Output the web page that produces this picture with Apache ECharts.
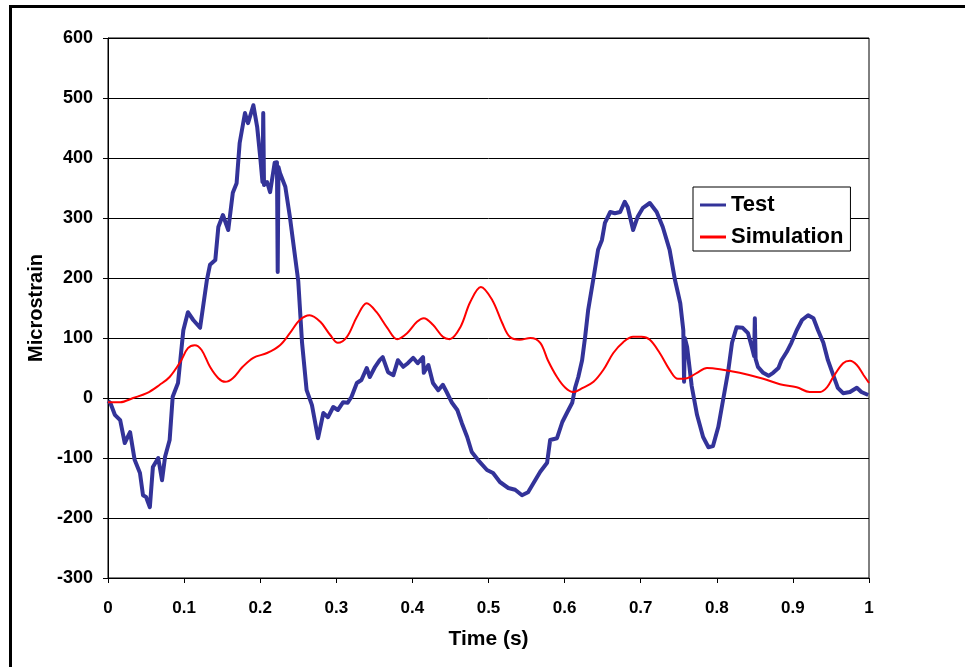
<!DOCTYPE html>
<html>
<head>
<meta charset="utf-8">
<script src="https://cdn.jsdelivr.net/npm/echarts@6/dist/echarts.min.js"></script>
<style>
html,body{margin:0;padding:0;background:#fff;}
#chart{width:965px;height:667px;}
</style>
</head>
<body>
<div id="chart"></div>
<script>
// Test series (time in s, microstrain)
const testT = [0.000,0.003,0.009,0.016,0.022,0.029,0.035,0.042,0.046,0.050,0.055,0.059,0.066,0.071,0.075,0.081,0.085,0.092,0.099,0.105,0.112,0.121,0.130,0.134,0.141,0.145,0.151,0.158,0.164,0.169,0.173,0.180,0.184,0.191,0.196,0.200,0.203,0.204,0.205,0.209,0.213,0.219,0.222,0.223,0.224,0.226,0.233,0.239,0.243,0.250,0.255,0.261,0.268,0.276,0.283,0.289,0.296,0.302,0.309,0.315,0.320,0.327,0.333,0.340,0.344,0.351,0.357,0.361,0.368,0.375,0.381,0.388,0.394,0.401,0.407,0.414,0.415,0.421,0.427,0.434,0.440,0.445,0.452,0.459,0.465,0.472,0.478,0.486,0.498,0.506,0.515,0.526,0.535,0.544,0.552,0.559,0.568,0.577,0.581,0.590,0.597,0.603,0.610,0.614,0.618,0.623,0.627,0.631,0.638,0.644,0.649,0.653,0.660,0.666,0.673,0.679,0.683,0.690,0.696,0.703,0.712,0.721,0.729,0.738,0.745,0.752,0.756,0.757,0.758,0.761,0.767,0.774,0.782,0.789,0.795,0.802,0.808,0.815,0.820,0.826,0.834,0.841,0.846,0.849,0.850,0.851,0.854,0.861,0.868,0.874,0.881,0.885,0.892,0.898,0.905,0.912,0.920,0.927,0.933,0.940,0.946,0.953,0.959,0.966,0.975,0.984,0.990,0.999];
const testV = [-5,-8,-28,-37,-75,-57,-103,-125,-162,-165,-182,-115,-100,-137,-98,-70,2,25,113,143,130,117,197,222,230,285,305,280,342,358,425,475,458,488,452,402,360,475,355,360,343,392,393,210,385,375,352,302,263,195,92,13,-12,-67,-25,-32,-15,-20,-7,-8,2,25,30,50,35,52,63,68,43,38,63,52,58,67,58,68,42,55,25,13,22,10,-8,-20,-42,-65,-90,-103,-120,-125,-140,-150,-153,-162,-157,-142,-123,-108,-70,-67,-40,-25,-8,18,35,63,102,147,200,247,263,292,310,308,310,327,318,280,302,317,325,310,285,247,197,158,113,27,100,85,20,-28,-65,-82,-80,-48,-5,45,92,118,117,108,85,70,133,65,52,42,37,42,50,63,77,92,113,130,138,133,113,92,63,38,17,8,10,17,10,5];

// Simulation series
const simT = [0.000,0.016,0.033,0.051,0.068,0.081,0.095,0.105,0.114,0.123,0.134,0.145,0.154,0.164,0.177,0.191,0.209,0.226,0.239,0.252,0.265,0.279,0.292,0.302,0.314,0.327,0.340,0.353,0.367,0.380,0.393,0.406,0.415,0.427,0.440,0.449,0.463,0.476,0.490,0.505,0.518,0.528,0.541,0.555,0.568,0.578,0.590,0.601,0.611,0.624,0.638,0.651,0.664,0.677,0.690,0.701,0.712,0.725,0.738,0.749,0.761,0.774,0.787,0.804,0.830,0.861,0.883,0.905,0.922,0.936,0.945,0.953,0.966,0.975,0.984,0.993,1.000];
const simV = [-7,-7,0,8,22,35,60,83,88,80,52,33,27,33,52,67,75,88,108,130,138,127,105,92,102,135,158,143,117,98,108,127,133,122,102,98,118,160,185,163,125,102,97,100,92,63,35,17,10,17,27,47,75,93,102,102,97,75,47,32,33,42,50,48,42,32,23,18,10,10,18,35,58,62,55,38,25];

const xTicks = ['0','0.1','0.2','0.3','0.4','0.5','0.6','0.7','0.8','0.9','1'];
const seriesNames = ['Test','Simulation'];

const testData = testT.map((t,i)=>[t,testV[i]]);
const simData = simT.map((t,i)=>[t,simV[i]]);

const FONT = 'Liberation Sans, Arial, sans-serif';
const chart = echarts.init(document.getElementById('chart'));
chart.setOption({
  animation:false,
  backgroundColor:'#fff',
  graphic:[{
    type:'rect', left:8, top:4, z:100, silent:true,
    shape:{x:0,y:0,width:1000,height:662},
    style:{fill:'none',stroke:'#000',lineWidth:3}
  }],
  grid:{left:108,right:96,top:38,bottom:89,show:true,borderColor:'#000',borderWidth:1,backgroundColor:'#fff'},
  legend:{
    orient:'vertical', left:693, top:187,
    data:seriesNames,
    icon:'rect', itemWidth:26, itemHeight:3, itemGap:10,
    padding:[7,7,3,7],
    backgroundColor:'#fff', borderColor:'#000', borderWidth:1,
    textStyle:{fontFamily:FONT,fontWeight:'bold',fontSize:22,color:'#000'}
  },
  xAxis:{
    type:'value', min:0, max:1, interval:0.1,
    name:'Time (s)', nameLocation:'middle', nameGap:51,
    nameTextStyle:{fontFamily:FONT,fontWeight:'bold',fontSize:21,color:'#000'},
    axisLine:{onZero:false,lineStyle:{color:'#000',width:1}},
    axisTick:{show:true,length:5,lineStyle:{color:'#000'}},
    axisLabel:{fontFamily:FONT,fontWeight:'bold',fontSize:17,color:'#000',margin:22,
      formatter:(v)=>xTicks[Math.round(v*10)]},
    splitLine:{show:false}
  },
  yAxis:{
    type:'value', min:-300, max:600, interval:100,
    name:'Microstrain', nameLocation:'middle', nameGap:56, nameRotate:90,
    nameTextStyle:{fontFamily:FONT,fontWeight:'bold',fontSize:20,color:'#000'},
    axisLine:{show:true,onZero:false,lineStyle:{color:'#000',width:1}},
    axisTick:{show:true,length:5,lineStyle:{color:'#000'}},
    axisLabel:{fontFamily:FONT,fontWeight:'bold',fontSize:18,color:'#000',margin:15},
    splitLine:{show:true,lineStyle:{color:'#000',width:1}}
  },
  series:[
    {name:'Test',type:'line',data:testData,showSymbol:false,symbol:'none',
     lineStyle:{color:'#333399',width:4,join:'round'},itemStyle:{color:'#333399'},z:3},
    {name:'Simulation',type:'line',data:simData,showSymbol:false,symbol:'none',smooth:0.35,
     lineStyle:{color:'#ff0000',width:2},itemStyle:{color:'#ff0000'},z:4}
  ]
});
</script>
</body>
</html>
